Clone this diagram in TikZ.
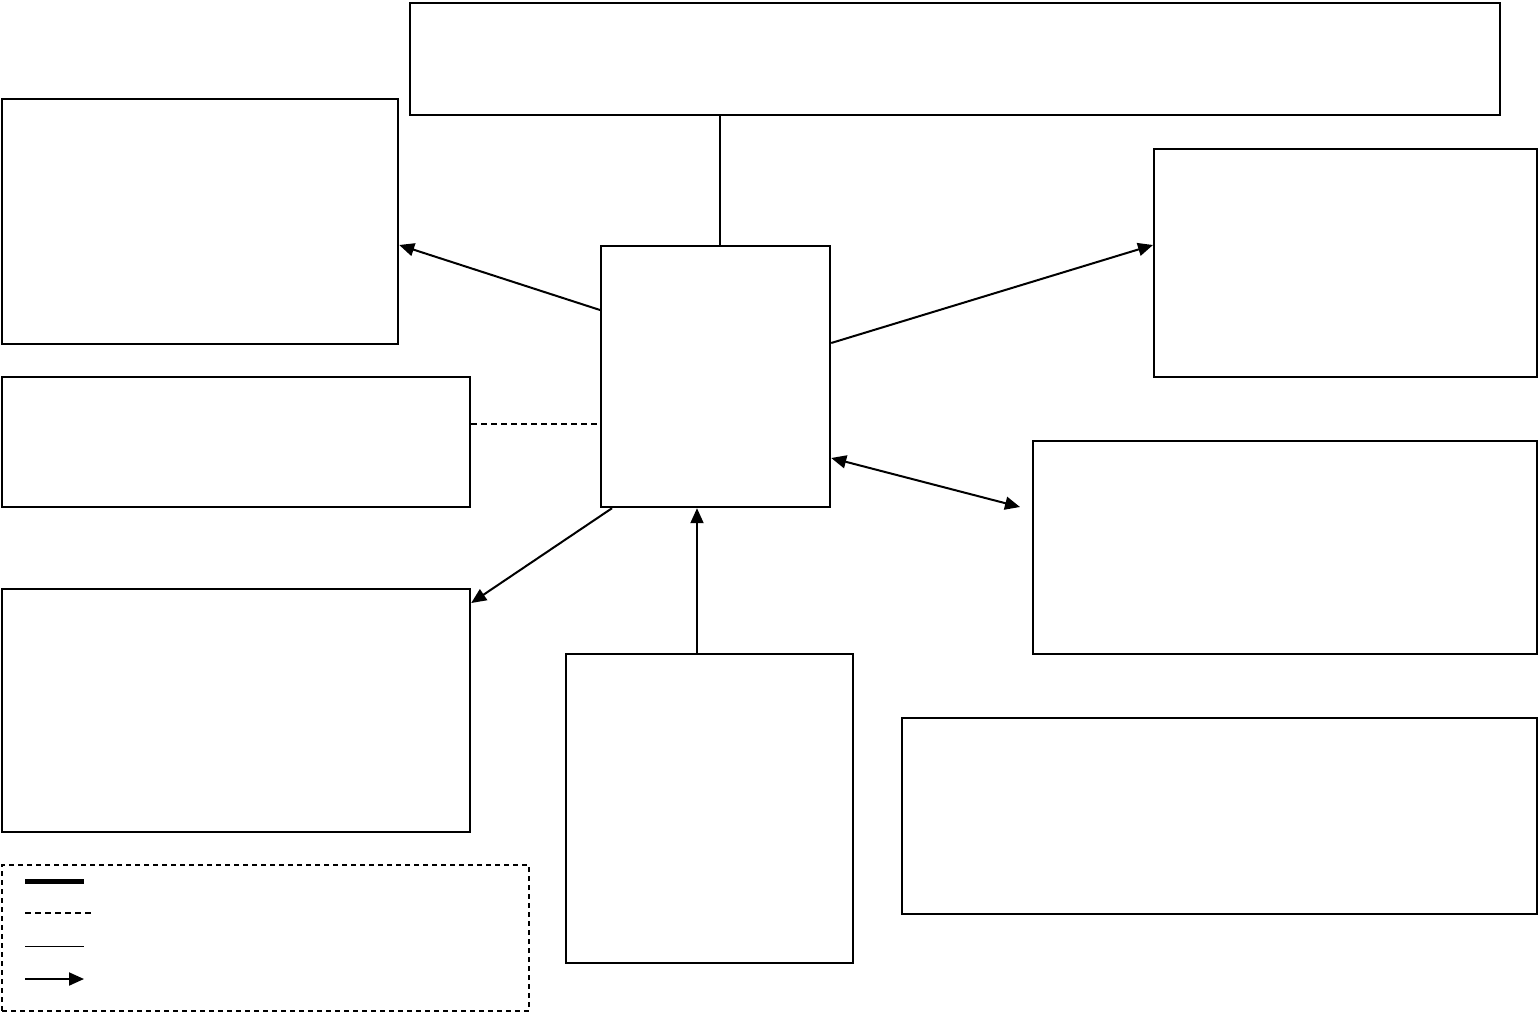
\documentclass[tikz,border=0pt]{standalone}
\usetikzlibrary{arrows.meta}
\begin{document}
\begin{tikzpicture}[x=1pt,y=-1pt,
  box/.style={draw,line width=2.2pt,inner sep=0pt,anchor=north west,fill=white},
  conn/.style={line width=2pt},
  arr/.style={conn,-{Triangle[length=15pt,width=13pt]}},
  darr/.style={conn,{Triangle[length=15pt,width=13pt]}-{Triangle[length=15pt,width=13pt]}}]
\useasboundingbox (0,0) rectangle (1538,1012);
\node[box,minimum width=1090pt,minimum height=112pt] (top) at (409,2) {};
\node[box,minimum width=396pt,minimum height=245pt] (a) at (1,98) {};
\node[box,minimum width=468pt,minimum height=130pt] (b) at (1,376) {};
\node[box,minimum width=468pt,minimum height=243pt] (c) at (1,588) {};
\node[box,minimum width=229pt,minimum height=261pt] (ctr) at (600,245) {};
\node[box,minimum width=383pt,minimum height=228pt] (r1) at (1153,148) {};
\node[box,minimum width=504pt,minimum height=213pt] (r2) at (1032,440) {};
\node[box,minimum width=635pt,minimum height=196pt] (r3) at (901,717) {};
\node[box,minimum width=287pt,minimum height=309pt] (bot) at (565,653) {};
\node[draw,dash pattern=on 5pt off 4pt,line width=2pt,inner sep=0pt,anchor=north west,minimum width=527pt,minimum height=146pt] (leg) at (1,864) {};
% connectors
\draw[conn] (top.south -| 720,0) -- (ctr.north -| 720,0);
\draw[arr] (ctr.west |- 0,310) -- (a.east |- 0,245);
\draw[conn,dash pattern=on 6pt off 4pt] (b.east |- 0,424) -- (ctr.west |- 0,424);
\draw[arr] (ctr.south -| 612,0) -- (c.east |- 0,603);
\draw[arr] (bot.north -| 697,0) -- (ctr.south -| 697,0);
\draw[arr] (ctr.east |- 0,343) -- (r1.west |- 0,245);
\coordinate (dend) at (1020,507);
\draw[darr] (ctr.east |- 0,458) -- (dend);
% legend
\coordinate (l1a) at (25,881); \coordinate (l1b) at (84,881);
\coordinate (l2a) at (25,913); \coordinate (l2b) at (93,913);
\coordinate (l3a) at (25,946); \coordinate (l3b) at (84,946);
\coordinate (l4a) at (25,979); \coordinate (l4b) at (84,979);
\draw[line width=5pt] (l1a) -- (l1b);
\draw[line width=2pt,dash pattern=on 6pt off 4pt] (l2a) -- (l2b);
\draw[line width=1pt] (l3a) -- (l3b);
\draw[arr] (l4a) -- (l4b);
\end{tikzpicture}
\end{document}
